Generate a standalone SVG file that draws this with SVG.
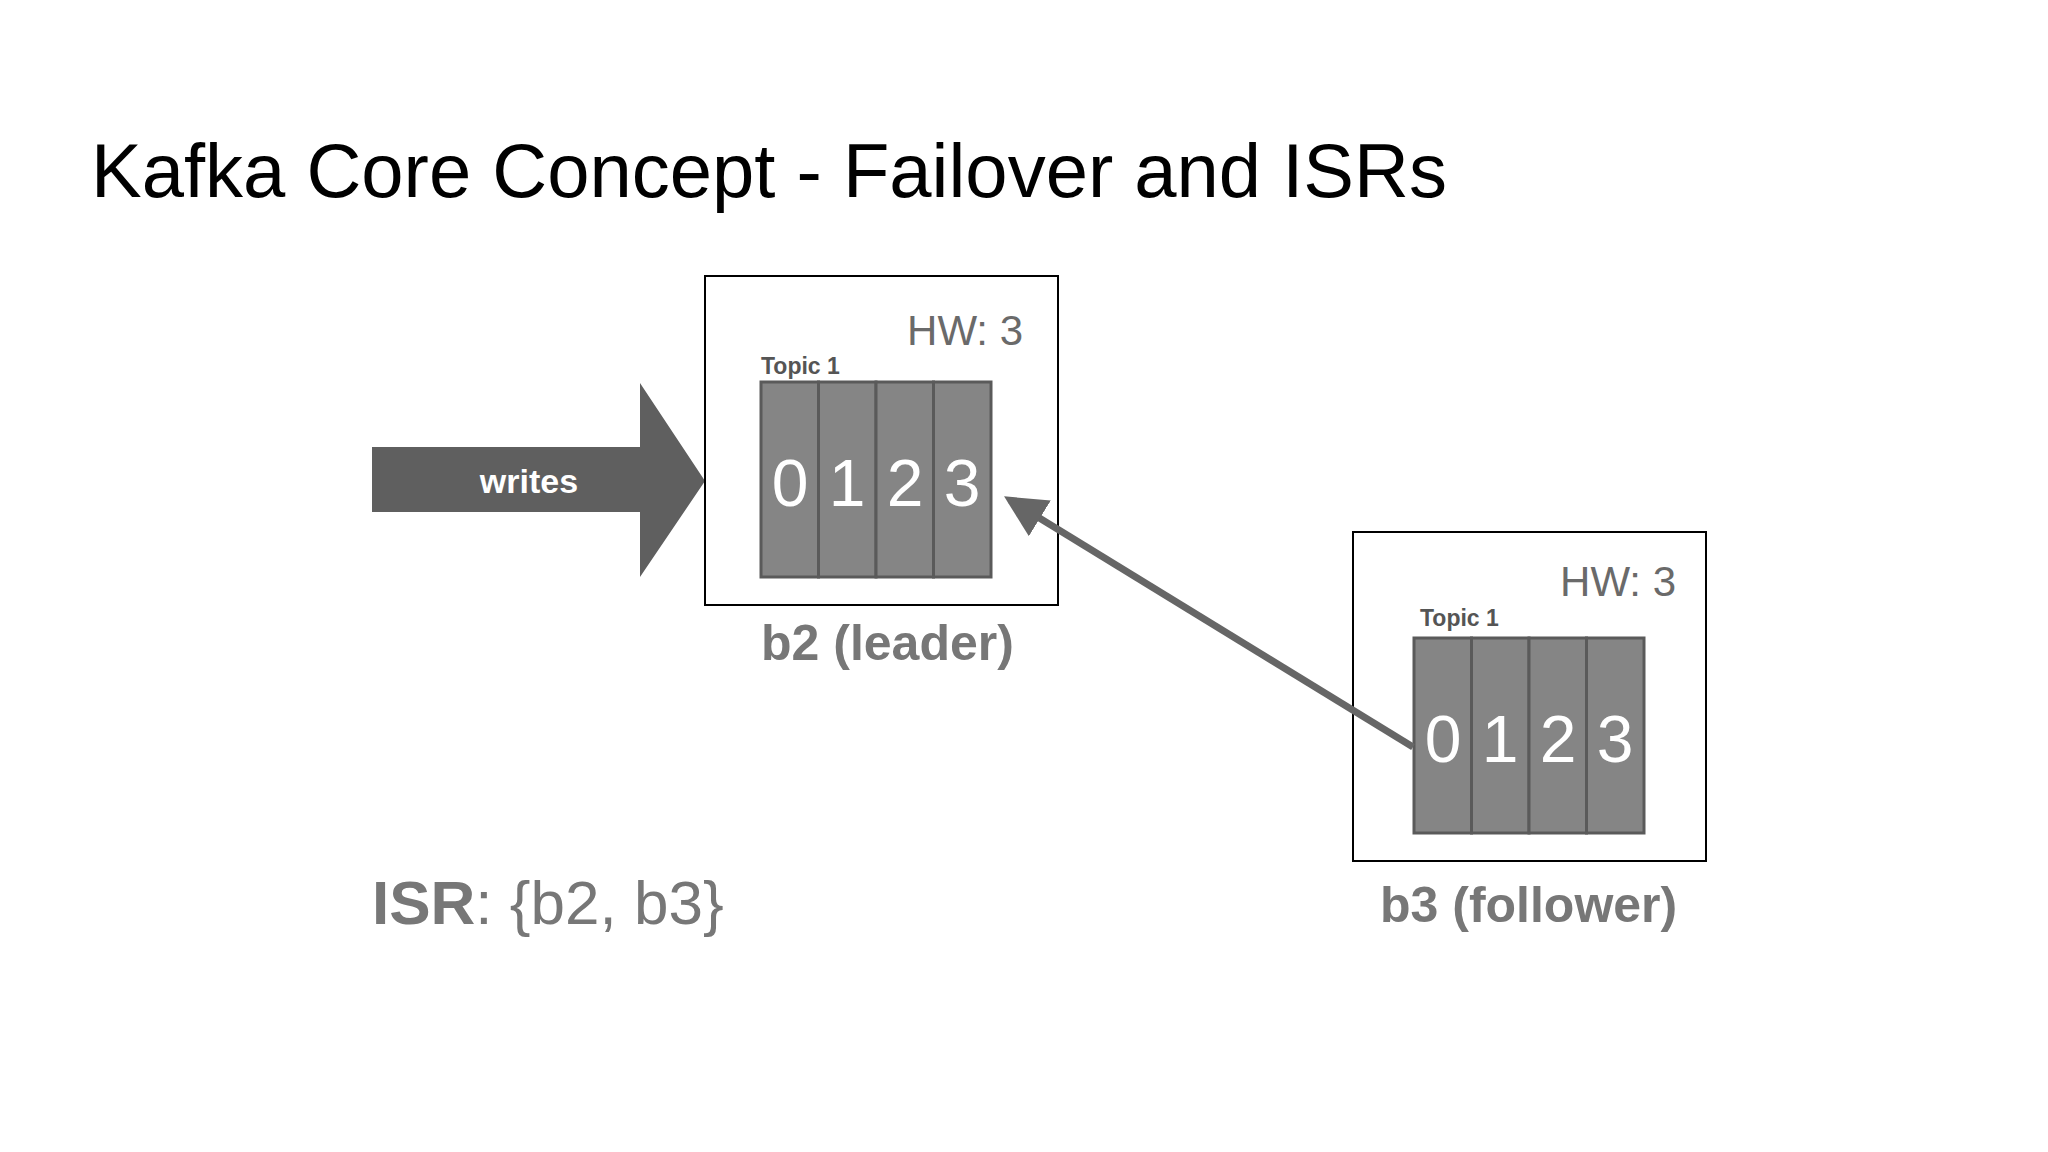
<svg xmlns="http://www.w3.org/2000/svg" width="2048" height="1152" viewBox="0 0 2048 1152">
<style>
.box{fill:#fff;stroke:#000;stroke-width:2}
.cell{fill:#858585;stroke:#5a5a5a;stroke-width:3}
.dig{font-family:"Liberation Sans",Arial,sans-serif;font-size:66px;fill:#fff;text-anchor:middle}
.hw{font-family:"Liberation Sans",Arial,sans-serif;font-size:42px;fill:#6a6a6a;text-anchor:end}
.topic{font-family:"Liberation Sans",Arial,sans-serif;font-size:23px;font-weight:bold;fill:#555}
.lbl{font-family:"Liberation Sans",Arial,sans-serif;font-size:50px;font-weight:bold;fill:#777}
</style>
<defs>
<marker id="ah" markerWidth="6" markerHeight="6" refX="5" refY="3" orient="auto" markerUnits="strokeWidth"><path d="M0,0 L6,3 L0,6 Z" fill="#666"/></marker>
</defs>
<rect width="2048" height="1152" fill="#fff"/>
<text x="91" y="197" font-family="Liberation Sans,Arial,sans-serif" font-size="76" fill="#000">Kafka Core Concept - Failover and ISRs</text>
<g id="writes">
<polygon points="372,447 640,447 640,383 705,481 640,577 640,512 372,512" fill="#5f5f5f"/>
<text x="529" y="493" font-family="Liberation Sans,Arial,sans-serif" font-size="34" font-weight="bold" fill="#fff" text-anchor="middle">writes</text>
</g>
<g id="b2">
<rect class="box" x="705" y="276" width="353" height="329"/>
<text class="hw" x="1023" y="345">HW: 3</text>
<text class="topic" x="761" y="374">Topic 1</text>
<rect class="cell" x="761" y="382" width="57.5" height="195"/>
<rect class="cell" x="818.5" y="382" width="57.5" height="195"/>
<rect class="cell" x="876" y="382" width="57.5" height="195"/>
<rect class="cell" x="933.5" y="382" width="57.5" height="195"/>
<text class="dig" x="790" y="506">0</text><text class="dig" x="847" y="506">1</text><text class="dig" x="905" y="506">2</text><text class="dig" x="962" y="506">3</text>
<text class="lbl" x="761" y="660">b2 (leader)</text>
</g>
<g id="b3">
<rect class="box" x="1353" y="532" width="353" height="329"/>
<text class="hw" x="1676" y="596">HW: 3</text>
<text class="topic" x="1420" y="626">Topic 1</text>
<rect class="cell" x="1414" y="638" width="57.5" height="195"/>
<rect class="cell" x="1471.5" y="638" width="57.5" height="195"/>
<rect class="cell" x="1529" y="638" width="57.5" height="195"/>
<rect class="cell" x="1586.5" y="638" width="57.5" height="195"/>
<text class="dig" x="1443" y="762">0</text><text class="dig" x="1500" y="762">1</text><text class="dig" x="1558" y="762">2</text><text class="dig" x="1615" y="762">3</text>
<text class="lbl" x="1380" y="922">b3 (follower)</text>
</g>
<g id="connectors">
<line x1="1413" y1="747" x2="1010" y2="500" stroke="#666" stroke-width="7" marker-end="url(#ah)"/>
</g>
<text x="372" y="924" font-family="Liberation Sans,Arial,sans-serif" font-size="62" fill="#777"><tspan font-weight="bold">ISR</tspan>: {b2, b3}</text>
</svg>
